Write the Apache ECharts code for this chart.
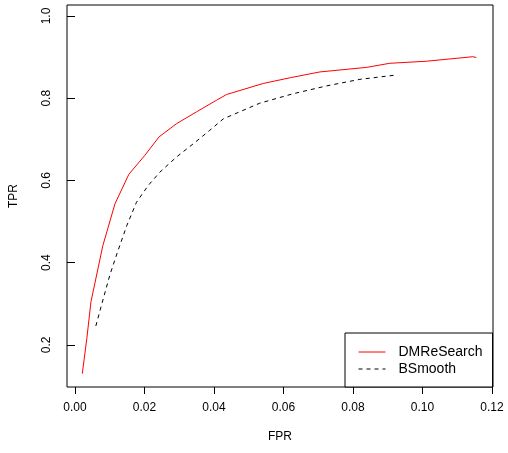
<!DOCTYPE html>
<html>
<head>
<meta charset="utf-8">
<script src="https://cdn.jsdelivr.net/npm/echarts@6/dist/echarts.min.js"></script>
<style>
  html, body { margin: 0; padding: 0; background: #fff; }
  #chart { width: 508px; height: 453px; }
</style>
</head>
<body>
<div id="chart"></div>
<script>
// ROC curves: true positive rate against false positive rate
var fprDM = [0.0021, 0.0034, 0.0046, 0.0080, 0.0115, 0.0155, 0.0200, 0.0242, 0.0292, 0.0350,
             0.0407, 0.0436, 0.0542, 0.0620, 0.0705, 0.0839, 0.0906, 0.1011, 0.1145, 0.1155];
var tprDM = [0.130, 0.215, 0.305, 0.441, 0.543, 0.615, 0.660, 0.706, 0.738, 0.767,
             0.795, 0.809, 0.836, 0.850, 0.864, 0.875, 0.885, 0.890, 0.901, 0.899];

var fprBS = [0.0060, 0.0077, 0.0101, 0.0122, 0.0149, 0.0177, 0.0211, 0.0244, 0.0292,
             0.0340, 0.0388, 0.0427, 0.0532, 0.0628, 0.0724, 0.0820, 0.0920];
var tprBS = [0.246, 0.299, 0.372, 0.425, 0.490, 0.547, 0.588, 0.620, 0.657,
             0.689, 0.722, 0.750, 0.788, 0.811, 0.830, 0.846, 0.856];

var xTicks = [0.00, 0.02, 0.04, 0.06, 0.08, 0.10, 0.12];
var yTicks = [0.2, 0.4, 0.6, 0.8, 1.0];

function pairs(xs, ys) {
  return xs.map(function (x, i) { return [x, ys[i]]; });
}

var font = 'Liberation Sans, Arial, Helvetica, sans-serif';
var chart = echarts.init(document.getElementById('chart'), null, { renderer: 'canvas' });

chart.setOption({
  animation: false,
  backgroundColor: '#fff',
  textStyle: { fontFamily: font },
  grid: {
    left: 67, right: 15, top: 5, bottom: 66,
    show: true, borderColor: '#000', borderWidth: 1, backgroundColor: 'transparent'
  },
  xAxis: {
    type: 'value',
    min: -0.0023, max: 0.1203,
    name: 'FPR', nameLocation: 'middle', nameGap: 44,
    nameTextStyle: { color: '#000', fontSize: 12, fontFamily: font },
    axisLine: { show: false },
    splitLine: { show: false },
    axisTick: { show: true, length: 7, lineStyle: { color: '#000' }, customValues: xTicks },
    axisLabel: {
      color: '#000', fontSize: 12, fontFamily: font, margin: 15,
      customValues: xTicks,
      formatter: function (v) { return v.toFixed(2); }
    }
  },
  yAxis: {
    type: 'value',
    min: 0.0976, max: 1.0268,
    name: 'TPR', nameLocation: 'middle', nameGap: 47,
    nameTextStyle: { color: '#000', fontSize: 12, fontFamily: font },
    axisLine: { show: false },
    splitLine: { show: false },
    axisTick: { show: true, length: 8, lineStyle: { color: '#000' }, customValues: yTicks },
    axisLabel: {
      color: '#000', fontSize: 12, fontFamily: font, margin: 14, rotate: 90,
      customValues: yTicks,
      formatter: function (v) { return v.toFixed(1); }
    }
  },
  legend: {
    orient: 'vertical',
    left: 345, top: 333,
    itemWidth: 27, itemHeight: 14, itemGap: 3,
    padding: [12, 10, 11, 13],
    borderColor: '#000', borderWidth: 1, borderRadius: 0,
    backgroundColor: '#fff',
    itemStyle: { color: 'transparent', borderWidth: 0, opacity: 0 },
    lineStyle: { width: 1 },
    textStyle: { fontSize: 14, color: '#000', fontFamily: font, padding: [0, 0, 0, 8] },
    data: ['DMReSearch', 'BSmooth']
  },
  series: [
    {
      name: 'DMReSearch',
      type: 'line',
      data: pairs(fprDM, tprDM),
      symbol: 'none', showSymbol: false,
      lineStyle: { color: '#ff0000', width: 1 },
      itemStyle: { color: '#ff0000' }
    },
    {
      name: 'BSmooth',
      type: 'line',
      data: pairs(fprBS, tprBS),
      symbol: 'none', showSymbol: false,
      lineStyle: { color: '#000', width: 1, type: [4, 4] },
      itemStyle: { color: '#000' }
    }
  ]
});
</script>
</body>
</html>
